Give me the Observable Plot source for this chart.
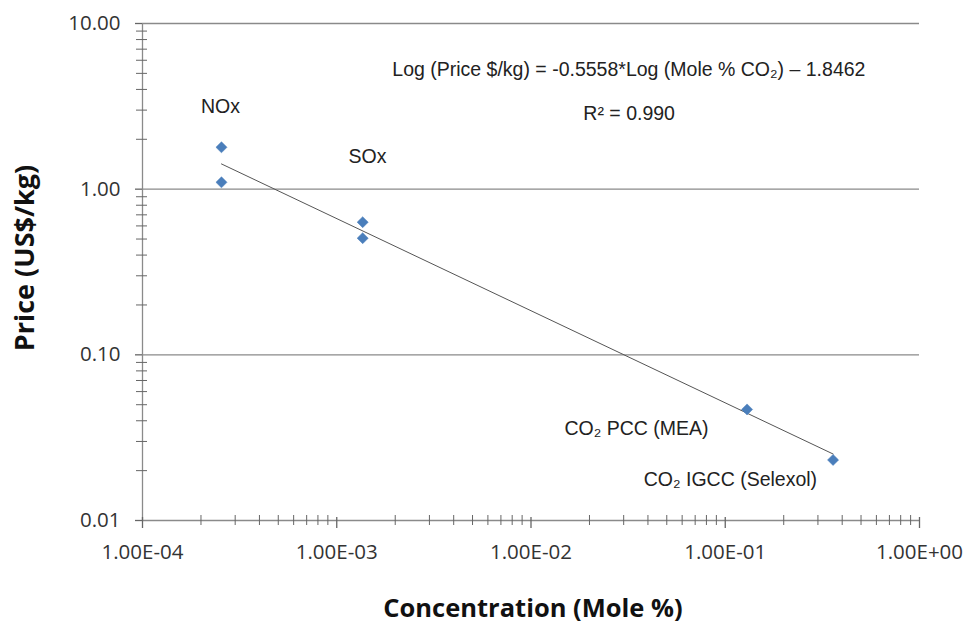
<!DOCTYPE html>
<html>
<head>
<meta charset="utf-8">
<script src="https://cdn.jsdelivr.net/npm/d3@7"></script>
<script src="https://cdn.jsdelivr.net/npm/@observablehq/plot@0.6"></script>
<style>
  html, body { margin: 0; padding: 0; background: #fff; }
</style>
</head>
<body>
<div id="chart"></div>
<script>
// Data points
const gases = ["NOx", "NOx", "SOx", "SOx", "CO2 PCC (MEA)", "CO2 IGCC (Selexol)"];
const concentration = [2.55e-4, 2.55e-4, 1.36e-3, 1.36e-3, 0.1295, 0.359];
const price = [1.79, 1.10, 0.632, 0.506, 0.0468, 0.0232];

// Trend line endpoints (as drawn)
const trendX = [2.55e-4, 0.359];
const trendY = [1.42, 0.0252];

// Axis ticks
const xMajor = [1e-4, 1e-3, 1e-2, 1e-1, 1];
const xTickLabels = ["1.00E-04", "1.00E-03", "1.00E-02", "1.00E-01", "1.00E+00"];
const yMajor = [0.01, 0.1, 1, 10];
const yTickLabels = ["0.01", "0.10", "1.00", "10.00"];
const multipliers = [2, 3, 4, 5, 6, 7, 8, 9];

// Annotations
const noteText = ["NOx", "SOx", "Log (Price $/kg) = -0.5558*Log (Mole % CO\u2082) \u2013 1.8462", "R\u00B2 = 0.990", "CO\u2082 PCC (MEA)", "CO\u2082 IGCC (Selexol)"];
const noteX = [2.52e-4, 1.44e-3, 0.0319, 0.0320, 0.0349, 0.1063];
const noteY = [3.13, 1.56, 5.23, 2.87, 0.0356, 0.01754];

const points = gases.map((g, i) => ({gas: g, x: concentration[i], y: price[i]}));
const trend = trendX.map((x, i) => ({x, y: trendY[i]}));
const notes = noteText.map((t, i) => ({text: t, x: noteX[i], y: noteY[i]}));
const xMinor = xMajor.slice(0, -1).flatMap(d => multipliers.map(m => d * m));
const yMinor = yMajor.slice(0, -1).flatMap(d => multipliers.map(m => d * m));

const axisColor = "#8a8a8a";
const tickFont = "'Open Sans', sans-serif";

const chart = Plot.plot({
  width: 964,
  height: 626,
  marginLeft: 142,
  marginRight: 45,
  marginTop: 23,
  marginBottom: 106,
  style: {fontFamily: "'Liberation Sans', Arial, sans-serif", background: "#fff"},
  x: {type: "log", domain: [1e-4, 1]},
  y: {type: "log", domain: [0.01, 10]},
  marks: [
    // horizontal gridlines & bottom axis line
    Plot.ruleY(yMajor, {stroke: axisColor, strokeWidth: 1.3}),
    // left axis line
    Plot.ruleX([1e-4], {stroke: axisColor, strokeWidth: 1.3}),
    // x ticks
    Plot.axisX(xMinor, {anchor: "bottom", tickSize: 10, dy: -5, stroke: "#666", strokeWidth: 1, fill: "none", label: null}),
    Plot.axisX(xMajor, {anchor: "bottom", tickSize: 11, dy: -3, stroke: "#666", strokeWidth: 1.3, fill: "none", label: null}),
    Plot.axisX(xMajor, {anchor: "bottom", tickSize: 0, tickPadding: 24, label: null,
      tickFormat: d => xTickLabels[xMajor.indexOf(d)], fontSize: 20.5, fontFamily: tickFont, fill: "#333"}),
    // y ticks
    Plot.axisY(yMinor, {anchor: "left", tickSize: 11, dx: 5, stroke: "#666", strokeWidth: 1, fill: "none", label: null}),
    Plot.axisY(yMajor, {anchor: "left", tickSize: 7, stroke: "#666", strokeWidth: 1.3, fill: "none", label: null}),
    Plot.axisY(yMajor, {anchor: "left", tickSize: 0, tickPadding: 22, label: null,
      tickFormat: d => yTickLabels[yMajor.indexOf(d)], fontSize: 20.5, fontFamily: tickFont, fill: "#333"}),
    // axis titles
    Plot.text(["Price (US$/kg)"], {frameAnchor: "left", textAnchor: "middle", lineAnchor: "middle",
      dx: -117, dy: -14, rotate: -90,
      fontSize: 27, fontWeight: "bold", fontFamily: tickFont, fill: "#111"}),
    Plot.text(["Concentration (Mole %)"], {frameAnchor: "bottom", textAnchor: "middle", lineAnchor: "middle",
      dx: 2, dy: 88,
      fontSize: 25.5, fontWeight: "bold", fontFamily: tickFont, fill: "#111"}),
    // trend line
    Plot.line(trend, {x: "x", y: "y", stroke: "#555", strokeWidth: 1}),
    // data points
    Plot.dot(points, {x: "x", y: "y", symbol: "diamond2", r: 5, fill: "#4A7EBB", stroke: "#4A7EBB", strokeWidth: 0.5}),
    // annotations
    Plot.text(notes, {x: "x", y: "y", text: "text", fontSize: 19.5, fill: "#222"})
  ]
});

document.getElementById("chart").appendChild(chart);
</script>
</body>
</html>
